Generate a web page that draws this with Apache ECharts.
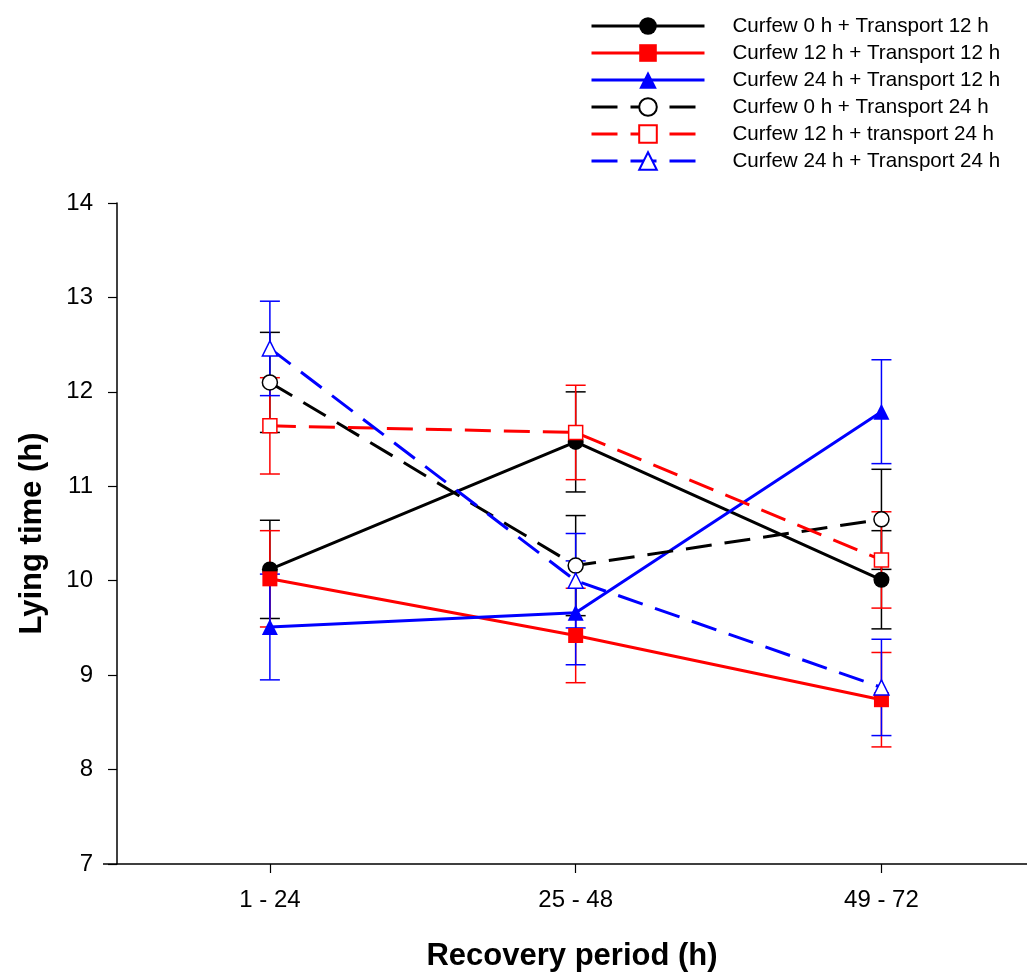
<!DOCTYPE html>
<html>
<head>
<meta charset="utf-8">
<script src="https://cdn.jsdelivr.net/npm/echarts@6/dist/echarts.min.js"></script>
<style>html,body{margin:0;padding:0;background:#fff;overflow:hidden}#c{width:1027px;height:972px}</style>
</head>
<body>
<div id="c"></div>
<script>
const categories = ['1 - 24', '25 - 48', '49 - 72'];
const categoryPos = [1, 2, 3];
const yTicks = [7, 8, 9, 10, 11, 12, 13, 14];

const names = [
  'Curfew 0 h + Transport 12 h',
  'Curfew 12 h + Transport 12 h',
  'Curfew 24 h + Transport 12 h',
  'Curfew 0 h + Transport 24 h',
  'Curfew 12 h + transport 24 h',
  'Curfew 24 h + Transport 24 h'
];

const c0t12 = [10.12, 11.47, 10.01];
const c0t12se = [0.52, 0.53, 0.52];
const c12t12 = [10.02, 9.42, 8.74];
const c12t12se = [0.51, 0.50, 0.50];
const c24t12 = [9.51, 9.66, 11.79];
const c24t12se = [0.56, 0.55, 0.55];
const c0t24 = [12.10, 10.16, 10.65];
const c0t24se = [0.53, 0.53, 0.53];
const c12t24 = [11.64, 11.57, 10.22];
const c12t24se = [0.51, 0.50, 0.51];
const c24t24 = [12.46, 10.00, 8.87];
const c24t24se = [0.50, 0.50, 0.51];

const FONT = '"Liberation Sans", Arial, sans-serif';
const defs = [
  {v: c0t12, se: c0t12se, color: '#000000', sym: 'circle', filled: true, dashed: false, size: 16},
  {v: c12t12, se: c12t12se, color: '#ff0000', sym: 'rect', filled: true, dashed: false, size: 15},
  {v: c24t12, se: c24t12se, color: '#0000ff', sym: 'triangle', filled: true, dashed: false, size: 16},
  {v: c0t24, se: c0t24se, color: '#000000', sym: 'circle', filled: false, dashed: true, size: 15},
  {v: c12t24, se: c12t24se, color: '#ff0000', sym: 'rect', filled: false, dashed: true, size: 14},
  {v: c24t24, se: c24t24se, color: '#0000ff', sym: 'triangle', filled: false, dashed: true, size: 15}
];

function errRender(color) {
  return function (params, api) {
    const x = api.value(0), lo = api.value(1), hi = api.value(2);
    const a = api.coord([x, hi]);
    const b = api.coord([x, lo]);
    const w = 10;
    const st = {stroke: color, lineWidth: 1.5};
    return {
      type: 'group',
      children: [
        {type: 'line', shape: {x1: a[0], y1: a[1], x2: b[0], y2: b[1]}, style: st},
        {type: 'line', shape: {x1: a[0] - w, y1: a[1], x2: a[0] + w, y2: a[1]}, style: st},
        {type: 'line', shape: {x1: b[0] - w, y1: b[1], x2: b[0] + w, y2: b[1]}, style: st}
      ]
    };
  };
}

const series = [];
defs.forEach(function (d, k) {
  series.push({
    name: 'err' + k,
    type: 'custom',
    renderItem: errRender(d.color),
    encode: {x: 0, y: [1, 2]},
    data: d.v.map(function (v, i) { return [categoryPos[i], v - d.se[i], v + d.se[i]]; }),
    z: 1,
    silent: true
  });
});
defs.forEach(function (d, k) {
  series.push({
    name: names[k],
    type: 'line',
    data: d.v.map(function (v, i) { return [categoryPos[i], v]; }),
    symbol: d.sym,
    symbolSize: d.size,
    z: 3,
    lineStyle: {color: d.color, width: 3, type: d.dashed ? [26, 13] : 'solid'},
    itemStyle: d.filled
      ? {color: d.color, borderColor: d.color, borderWidth: 0}
      : {color: '#ffffff', borderColor: d.color, borderWidth: 1.5},
    emphasis: {disabled: true},
    animation: false
  });
});

const chart = echarts.init(document.getElementById('c'), null, {renderer: 'canvas'});
chart.setOption({
  animation: false,
  backgroundColor: '#ffffff',
  textStyle: {fontFamily: FONT},
  grid: {left: 117, right: 0, top: 203, bottom: 108, containLabel: false, outerBoundsMode: 'none'},
  graphic: [{
    type: 'line',
    shape: {x1: 103, y1: 864, x2: 117, y2: 864},
    style: {stroke: '#000', lineWidth: 1.5},
    silent: true
  }],
  legend: {
    data: names,
    orient: 'vertical',
    left: 590,
    top: 15,
    padding: 0,
    itemWidth: 113,
    itemHeight: 22,
    itemGap: 5,
    selectedMode: false,
    lineStyle: {width: 3},
    textStyle: {fontFamily: FONT, fontSize: 20.6, color: '#000', padding: [0, 0, 0, 23], lineHeight: 22}
  },
  xAxis: {
    type: 'value',
    min: 0.5,
    max: 3.476,
    name: 'Recovery period (h)',
    nameLocation: 'middle',
    nameGap: 77,
    nameTextStyle: {fontFamily: FONT, fontSize: 31, fontWeight: 'bold', color: '#000'},
    axisLine: {show: true, onZero: false, lineStyle: {color: '#000', width: 1.5}},
    axisTick: {show: true, customValues: categoryPos, length: 9, lineStyle: {color: '#000', width: 1.2}},
    axisLabel: {
      show: true,
      customValues: categoryPos,
      fontFamily: FONT, fontSize: 24, color: '#000', margin: 24,
      formatter: function (v) { return categories[Math.round(v) - 1] || ''; }
    },
    splitLine: {show: false}
  },
  yAxis: {
    type: 'value',
    min: yTicks[0],
    max: yTicks[yTicks.length - 1],
    interval: 1,
    name: 'Lying time (h)',
    nameLocation: 'middle',
    nameGap: 69,
    nameTextStyle: {fontFamily: FONT, fontSize: 31, fontWeight: 'bold', color: '#000'},
    axisLine: {show: true, lineStyle: {color: '#000', width: 1.5}},
    axisTick: {show: true, length: 9, lineStyle: {color: '#000', width: 1.2}},
    axisLabel: {fontFamily: FONT, fontSize: 24, color: '#000', margin: 24},
    splitLine: {show: false}
  },
  series: series
});
</script>
</body>
</html>
